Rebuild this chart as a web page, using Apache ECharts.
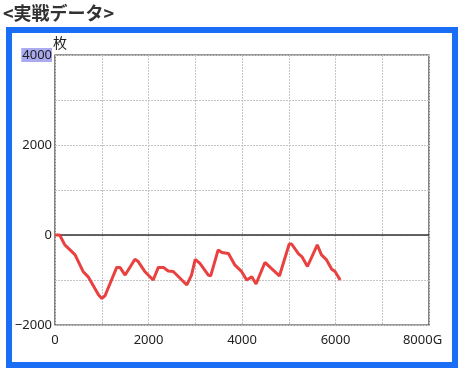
<!DOCTYPE html>
<html><head><meta charset="utf-8">
<script src="https://cdn.jsdelivr.net/npm/echarts@6/dist/echarts.min.js"></script>
<style>html,body{margin:0;padding:0;background:#fff;}#c{width:465px;height:373px;}</style>
</head><body><div id="c"></div>
<script>
const games = [0, 100, 210, 360, 430, 600, 710, 930, 1000, 1070, 1320, 1390, 1500, 1710, 1780, 1920, 2100, 2210, 2320, 2420, 2530, 2820, 2920, 3000, 3100, 3280, 3330, 3490, 3570, 3710, 3850, 3990, 4100, 4210, 4300, 4490, 4800, 5010, 5060, 5210, 5280, 5400, 5610, 5700, 5800, 5920, 5990, 6100];
const medals = [0, 0, -220, -370, -440, -810, -930, -1330, -1410, -1350, -720, -720, -890, -540, -590, -810, -1000, -720, -720, -800, -810, -1110, -890, -540, -630, -890, -910, -330, -390, -410, -670, -810, -1000, -930, -1090, -610, -910, -200, -200, -420, -480, -700, -220, -440, -540, -760, -810, -1000];
const xTickLabels = [0, 2000, 4000, 6000, 8000];
const yTickLabels = [-2000, 0, 2000, 4000];
const titleText = '<実戦データ>';
const yUnit = '枚';
const xUnit = 'G';

const numFont = '"Noto Sans", sans-serif';
const fmtNum = v => (v < 0 ? '\u2212' + Math.abs(v) : String(v));
const chart = echarts.init(document.getElementById('c'));
chart.setOption({
  animation: false,
  backgroundColor: '#fff',
  grid: {left: 55, right: 36, top: 55, bottom: 48, show: true, borderColor: '#333', borderWidth: 1.2, backgroundColor: 'transparent'},
  graphic: [
    {type: 'rect', shape: {x: 9, y: 30, width: 446, height: 335}, style: {fill: 'none', stroke: '#1a6ef5', lineWidth: 6}, z: 100},
    {type: 'text', left: 3, top: 4, style: {text: titleText, font: 'bold 18px "Noto Sans CJK JP", sans-serif', fill: '#333'}},
    {type: 'text', left: 53, top: 36, style: {text: yUnit, font: '14px "Noto Sans CJK JP", sans-serif', fill: '#222'}}
  ],
  xAxis: {
    type: 'value', min: 0, max: 8000, interval: 1000,
    axisLine: {show: false}, axisTick: {show: false},
    splitLine: {show: true, lineStyle: {color: '#c4c4c4', type: [2, 1], width: 1}},
    axisLabel: {
      margin: 9, color: '#222', fontSize: 13, fontFamily: numFont,
      formatter: v => xTickLabels.includes(v) ? (v === 8000 ? '{e|' + v + xUnit + '}' : fmtNum(v)) : '',
      rich: {e: {fontSize: 13, fontFamily: numFont, color: '#222', padding: [0, 13, 0, 0]}}
    }
  },
  yAxis: {
    type: 'value', min: -2000, max: 4000, interval: 1000,
    axisLine: {show: false}, axisTick: {show: false},
    splitLine: {show: true, lineStyle: {color: '#c4c4c4', type: [2, 1], width: 1}},
    axisLabel: {
      margin: 3, color: '#222', fontSize: 13, fontFamily: numFont,
      formatter: v => yTickLabels.includes(v) ? (v === 4000 ? '{hl|' + v + '}' : fmtNum(v)) : '',
      rich: {hl: {backgroundColor: '#aaaaf0', fontSize: 13, fontFamily: numFont, color: '#222', padding: [1, 0, 0, 1]}}
    }
  },
  series: [{
    type: 'line',
    data: games.map((g, i) => [g, medals[i]]),
    showSymbol: false,
    lineStyle: {color: '#e8413f', width: 3},
    markLine: {silent: true, symbol: 'none', label: {show: false}, lineStyle: {color: '#333', type: 'solid', width: 1.5}, data: [{yAxis: 0}]},
    z: 5
  }]
});
</script></body></html>
